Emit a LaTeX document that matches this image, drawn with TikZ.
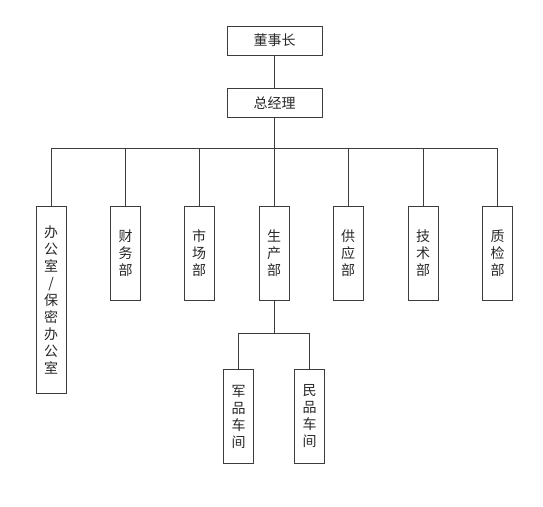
\documentclass[tikz,border=0pt]{standalone}
\usepackage{fontspec}
\setmainfont{Noto Sans CJK SC}

\tikzset{every picture/.style={line width=0.75pt}}
\tikzset{
  unit/.style={draw={rgb,255:red,60;green,60;blue,60}, inner sep=0pt, align=center,
    text={rgb,255:red,40;green,40;blue,40}, font=\fontsize{10.5}{12.75}\selectfont},
  lead/.style={unit, minimum width=71.25pt, minimum height=21.75pt},
  dept/.style={unit, minimum width=22.5pt, minimum height=70.5pt},
  link/.style={draw={rgb,255:red,60;green,60;blue,60}}
}

\begin{document}
\begin{tikzpicture}[x=0.75pt,y=0.75pt,yscale=-1,xscale=1]
\useasboundingbox (0,0) rectangle (543,507);

% Leaders
\node [lead] (dsz) at (274.5,40.5) {董事长};
\node [lead] (zjl) at (274.5,103) {总经理};

% Departments
\node [dept, minimum height=140.25pt] (bgs) at (51,299.5) {办\\公\\室\\/\\保\\密\\办\\公\\室};
\node [dept] (cwb) at (125.5,253) {财\\务\\部};
\node [dept] (scb) at (199,253) {市\\场\\部};
\node [dept] (sca) at (274,253) {生\\产\\部};
\node [dept] (gyb) at (348,253) {供\\应\\部};
\node [dept] (jsb) at (423,253) {技\\术\\部};
\node [dept] (zjb) at (497.5,253) {质\\检\\部};

% Workshops
\node [dept] (jpcj) at (238.5,416.5) {军\\品\\车\\间};
\node [dept] (mpcj) at (309.5,416.5) {民\\品\\车\\间};

%Bus lines
\coordinate (bus) at (0,148);
\coordinate (sub) at (0,333);

\draw [link] (dsz) -- (zjl);
\draw [link] (zjl.south) -- (zjl.south |- bus);
\draw [link] (bgs.north) -- (bgs.north |- bus) -- (zjb.north |- bus) -- (zjb.north);
\foreach \n in {cwb,scb,sca,gyb,jsb}
  \draw [link] (\n.north) -- (\n.north |- bus);

\draw [link] (sca.south) -- (sca.south |- sub);
\draw [link] (jpcj.north) -- (jpcj.north |- sub) -- (mpcj.north |- sub) -- (mpcj.north);

\end{tikzpicture}
\end{document}
